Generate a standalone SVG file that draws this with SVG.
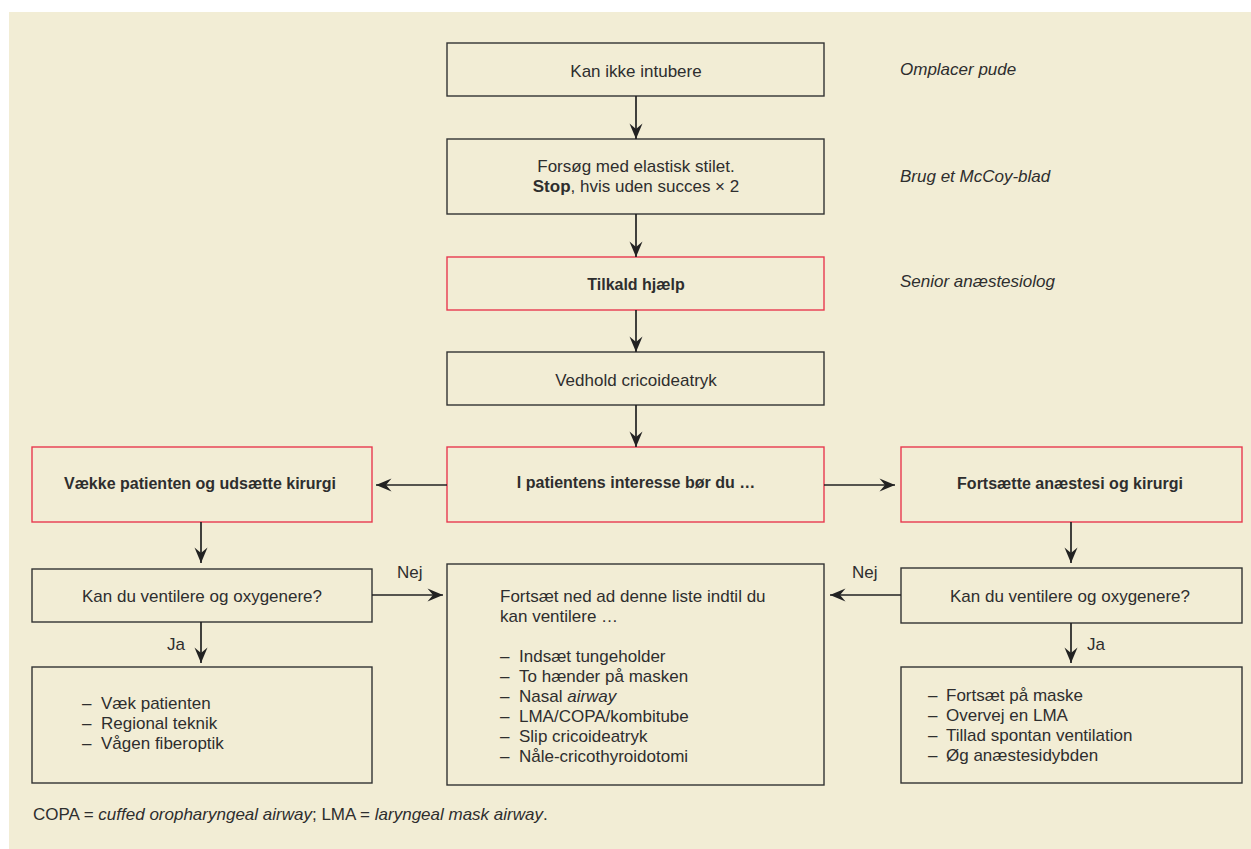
<svg xmlns="http://www.w3.org/2000/svg" width="1251" height="849" viewBox="0 0 1251 849">
<style>
  text { font-family: "Liberation Sans", Arial, sans-serif; font-size: 17px; fill: #2e2e2e; }
  .c { text-anchor: middle; }
  .b { font-weight: bold; font-size: 16px; }
  .i { font-style: italic; }
  .box { fill: none; stroke: #333333; stroke-width: 1.4; }
  .red { fill: none; stroke: #e8394f; stroke-width: 1.4; }
  .ln { stroke: #222222; stroke-width: 1.7; fill: none; marker-end: url(#ah); }
</style>
<defs>
  <marker id="ah" markerUnits="userSpaceOnUse" markerWidth="18" markerHeight="16" viewBox="-17 -8 18 16" refX="0" refY="0" orient="auto">
    <path d="M0,0 L-15.5,-6.5 L-10,0 L-15.5,6.5 Z" fill="#222222"/>
  </marker>
</defs>
<rect x="9" y="12" width="1242" height="837" fill="#f2edd5"/>

<g id="n1"><rect class="box" x="447" y="43" width="377" height="53"/><text class="c" x="636" y="77">Kan ikke intubere</text></g>
<g id="n2"><rect class="box" x="447" y="139" width="377" height="75"/><text class="c" x="636" y="172">Forsøg med elastisk stilet.</text><text class="c" x="636" y="192"><tspan class="b" style="font-size:17px">Stop</tspan>, hvis uden succes × 2</text></g>
<g id="n3"><rect class="red" x="447" y="257" width="377" height="53"/><text class="c b" x="636" y="290">Tilkald hjælp</text></g>
<g id="n4"><rect class="box" x="447" y="352" width="377" height="53"/><text class="c" x="636" y="386">Vedhold cricoideatryk</text></g>
<g id="n5"><rect class="red" x="447" y="447" width="377" height="75"/><text class="c b" x="636" y="488">I patientens interesse bør du …</text></g>
<g id="n6"><rect class="red" x="32" y="447" width="340" height="75"/><text class="c b" x="200" y="489">Vække patienten og udsætte kirurgi</text></g>
<g id="n7"><rect class="red" x="901" y="447" width="341" height="75"/><text class="c b" x="1070" y="489">Fortsætte anæstesi og kirurgi</text></g>
<g id="n8"><rect class="box" x="32" y="569" width="340" height="53"/><text class="c" x="202" y="602">Kan du ventilere og oxygenere?</text></g>
<g id="n9"><rect class="box" x="901" y="568" width="341" height="55"/><text class="c" x="1070" y="602">Kan du ventilere og oxygenere?</text></g>
<g id="n10"><rect class="box" x="447" y="564" width="377" height="221"/>
  <text x="500" y="602">Fortsæt ned ad denne liste indtil du</text>
  <text x="500" y="622">kan ventilere …</text>
  <text x="500" y="662">–</text><text x="519" y="662">Indsæt tungeholder</text>
  <text x="500" y="682">–</text><text x="519" y="682">To hænder på masken</text>
  <text x="500" y="702">–</text><text x="519" y="702">Nasal <tspan class="i">airway</tspan></text>
  <text x="500" y="722">–</text><text x="519" y="722">LMA/COPA/kombitube</text>
  <text x="500" y="742">–</text><text x="519" y="742">Slip cricoideatryk</text>
  <text x="500" y="762">–</text><text x="519" y="762">Nåle-cricothyroidotomi</text>
</g>
<g id="n11"><rect class="box" x="32" y="667" width="340" height="116"/>
  <text x="82" y="709">–</text><text x="101" y="709">Væk patienten</text>
  <text x="82" y="729">–</text><text x="101" y="729">Regional teknik</text>
  <text x="82" y="749">–</text><text x="101" y="749">Vågen fiberoptik</text>
</g>
<g id="n12"><rect class="box" x="901" y="667" width="341" height="116"/>
  <text x="928" y="701">–</text><text x="946" y="701">Fortsæt på maske</text>
  <text x="928" y="721">–</text><text x="946" y="721">Overvej en LMA</text>
  <text x="928" y="741">–</text><text x="946" y="741">Tillad spontan ventilation</text>
  <text x="928" y="761">–</text><text x="946" y="761">Øg anæstesidybden</text>
</g>

<g id="notes">
  <text class="i" x="900" y="75">Omplacer pude</text>
  <text class="i" x="900" y="182">Brug et McCoy-blad</text>
  <text class="i" x="900" y="287">Senior anæstesiolog</text>
  <text x="33" y="820">COPA = <tspan class="i">cuffed oropharyngeal airway</tspan>; LMA = <tspan class="i">laryngeal mask airway</tspan>.</text>
</g>

<g id="connectors">
  <line class="ln" x1="636" y1="96" x2="636" y2="139"/>
  <line class="ln" x1="636" y1="214" x2="636" y2="257"/>
  <line class="ln" x1="636" y1="310" x2="636" y2="352"/>
  <line class="ln" x1="636" y1="405" x2="636" y2="447"/>
  <line class="ln" x1="447" y1="485" x2="376" y2="485"/>
  <line class="ln" x1="824" y1="485" x2="895" y2="485"/>
  <line class="ln" x1="201" y1="522" x2="201" y2="563"/>
  <line class="ln" x1="1071" y1="522" x2="1071" y2="563"/>
  <line class="ln" x1="372" y1="595" x2="443" y2="595"/>
  <line class="ln" x1="901" y1="595" x2="830" y2="595"/>
  <line class="ln" x1="201" y1="622" x2="201" y2="663"/>
  <line class="ln" x1="1071" y1="623" x2="1071" y2="663"/>
  <text x="397" y="578">Nej</text>
  <text x="852" y="578">Nej</text>
  <text x="167" y="650">Ja</text>
  <text x="1087" y="650">Ja</text>
</g>
</svg>
